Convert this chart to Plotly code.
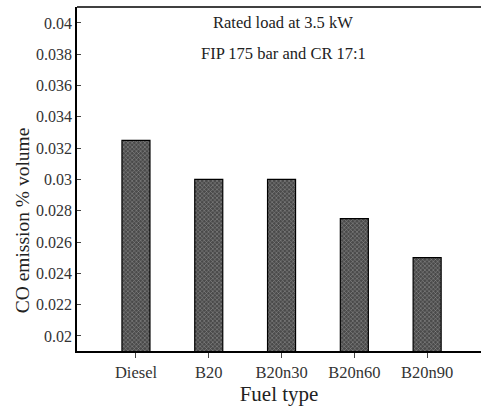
import plotly.graph_objects as go

fuels = ["Diesel", "B20", "B20n30", "B20n60", "B20n90"]
co_emission = [0.0325, 0.030, 0.030, 0.0275, 0.025]
y_ticks = [0.02, 0.022, 0.024, 0.026, 0.028, 0.03, 0.032, 0.034, 0.036, 0.038, 0.04]
y_tick_labels = ["0.02", "0.022", "0.024", "0.026", "0.028", "0.03", "0.032", "0.034", "0.036", "0.038", "0.04"]

serif = "Liberation Serif"

fig = go.Figure()
fig.add_trace(go.Bar(
    x=fuels, y=co_emission, width=0.385,
    marker=dict(color="#4a4a4a", line=dict(color="black", width=1.2),
                pattern=dict(shape="x", fgcolor="#e0e0e0", bgcolor="#4a4a4a", size=3, solidity=0.3)),
))

fig.update_layout(
    width=481, height=406,
    margin=dict(l=77, r=0, t=7, b=55),
    paper_bgcolor="white", plot_bgcolor="white",
    showlegend=False,
    font=dict(family=serif, size=16, color="#222"),
    xaxis=dict(
        range=[-0.81, 4.74], showline=True, linecolor="black", linewidth=1.5,
        ticks="outside", ticklen=5, tickcolor="#444", showgrid=False,
        tickfont=dict(family=serif, size=16.5, color="#333"),
        title=dict(text="Fuel type", font=dict(family=serif, size=21, color="#222"), standoff=2),
    ),
    yaxis=dict(
        range=[0.01904, 0.04102], showline=True, linecolor="black", linewidth=1.5,
        tickvals=y_ticks, ticktext=y_tick_labels,
        ticks="inside", ticklen=4, tickcolor="#444", showgrid=False, zeroline=False,
        tickfont=dict(family=serif, size=16, color="#333"),
    ),
    shapes=[dict(type="line", xref="paper", yref="paper", x0=0, x1=1, y0=1, y1=1,
                 line=dict(color="black", width=1.5))],
    annotations=[
        dict(text="CO emission % volume", xref="paper", yref="paper", x=-0.136, y=0.38,
             textangle=-90, showarrow=False, font=dict(family=serif, size=19.5, color="#222"),
             xanchor="center", yanchor="middle"),
        dict(text="Rated load at 3.5 kW", xref="paper", yref="paper", x=0.51, y=0.956,
             showarrow=False, font=dict(family=serif, size=16.5, color="#222"), xanchor="center", yanchor="middle"),
        dict(text="FIP 175 bar and CR 17:1", xref="paper", yref="paper", x=0.51, y=0.866,
             showarrow=False, font=dict(family=serif, size=16.5, color="#222"), xanchor="center", yanchor="middle"),
    ],
)

fig.write_html("out.html")
